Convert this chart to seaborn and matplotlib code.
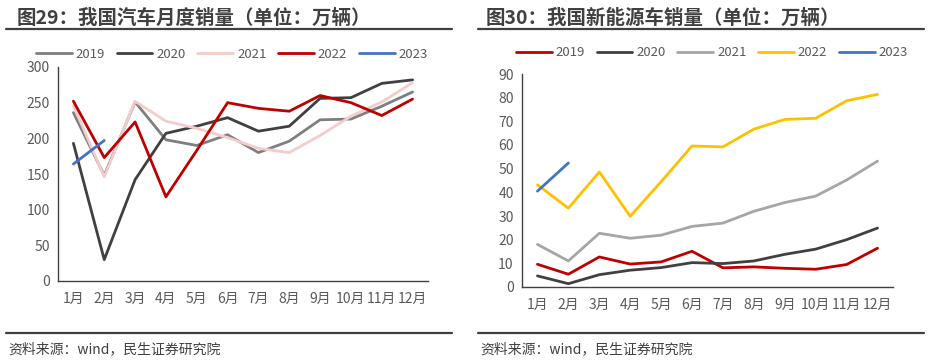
import pandas as pd
import numpy as np
import matplotlib
matplotlib.use("Agg")
import matplotlib.pyplot as plt
import seaborn as sns
from matplotlib.lines import Line2D

months = ["1月", "2月", "3月", "4月", "5月", "6月", "7月", "8月", "9月", "10月", "11月", "12月"]
years = ["2019", "2020", "2021", "2022", "2023"]

# 图29 汽车月度销量（万辆）
auto_2019 = [236, 148, 251, 198, 190, 205, 180, 196, 226, 227, 245, 265]
auto_2020 = [193, 30, 142, 207, 217, 229, 210, 217, 256, 257, 277, 282]
auto_2021 = [246, 146, 252, 224, 214, 201, 186, 180, 204, 231, 251, 278]
auto_2022 = [252, 173, 223, 118, 183, 250, 242, 238, 260, 250, 232, 255]
auto_2023 = [164, 197]

# 图30 新能源车销量（万辆）
nev_2019 = [9.6, 5.4, 12.7, 9.7, 10.6, 15.1, 8.1, 8.5, 7.9, 7.5, 9.5, 16.4]
nev_2020 = [4.7, 1.4, 5.2, 7.1, 8.2, 10.3, 9.9, 11.0, 13.8, 16.0, 20.0, 24.9]
nev_2021 = [18.0, 11.0, 22.7, 20.6, 21.9, 25.6, 27.0, 32.0, 35.7, 38.4, 45.2, 53.2]
nev_2022 = [43.2, 33.3, 48.6, 29.9, 44.5, 59.6, 59.2, 66.7, 70.8, 71.3, 78.7, 81.4]
nev_2023 = [40.5, 52.4]

auto_colors = ["#7F7F7F", "#404040", "#F4CCCC", "#C00000", "#4472C4"]
nev_colors = ["#C00000", "#404040", "#A6A6A6", "#FFC000", "#4472C4"]


def to_long(series):
    rows = []
    for yr, vals in zip(years, series):
        for m, v in zip(months, vals):
            rows.append({"month": m, "year": yr, "value": v})
    return pd.DataFrame(rows)


sns.set_style("white")
plt.rcParams["font.family"] = ["Noto Sans CJK SC", "DejaVu Sans"]

fig = plt.figure(figsize=(9.32, 3.61), dpi=100)
txt = "#595959"


def panel(rect, df, colors, ymax, ystep, title, tx, line_x0, line_x1, legend_xy):
    ax = fig.add_axes(rect)
    sns.lineplot(data=df, x="month", y="value", hue="year", palette=colors,
                 linewidth=2.0, ax=ax, legend=False, sort=False)
    ax.set_xlim(-0.5, 11.5)
    ax.set_ylim(0, ymax)
    ax.set_yticks(np.arange(0, ymax + 1, ystep))
    ax.set_xticks(range(12))
    ax.set_xticklabels(months)
    ax.set_xticks(np.arange(-0.5, 12, 1), minor=True)
    ax.tick_params(axis="x", which="major", length=0, pad=8, labelsize=10, colors=txt)
    ax.tick_params(axis="x", which="minor", length=4, width=1, color="#404040", direction="out")
    ax.tick_params(axis="y", length=0, labelsize=10, colors=txt, pad=6)
    ax.set_xlabel("")
    ax.set_ylabel("")
    for s in ["top", "right"]:
        ax.spines[s].set_visible(False)
    for s in ["left", "bottom"]:
        ax.spines[s].set_color("#404040")
        ax.spines[s].set_linewidth(1.0)
    handles = [Line2D([0], [0], color=c, lw=2.0) for c in colors]
    ax.legend(handles, years, ncol=5, loc="center", bbox_to_anchor=legend_xy,
              bbox_transform=fig.transFigure, frameon=False, fontsize=9.5,
              handlelength=2.7, columnspacing=0.9, handletextpad=0.3,
              labelcolor=txt, borderpad=0)
    fig.text(tx, 1 - 18 / 361, title, fontsize=14, fontweight="bold",
             color="#404040", va="center", ha="left")
    fig.add_artist(Line2D([line_x0 / 932, line_x1 / 932], [1 - 29 / 361] * 2,
                          color="#404040", lw=1.6, transform=fig.transFigure))
    fig.add_artist(Line2D([line_x0 / 932, line_x1 / 932], [1 - 333 / 361] * 2,
                          color="#404040", lw=1.6, transform=fig.transFigure))
    fig.text(line_x0 / 932 + 2 / 932, 1 - 349 / 361, "资料来源：wind，民生证券研究院",
             fontsize=10, color="#404040", va="center", ha="left")
    return ax


panel([58 / 932, 80 / 361, 370 / 932, 214 / 361],
      to_long([auto_2019, auto_2020, auto_2021, auto_2022, auto_2023]),
      auto_colors, 300, 50, "图29：我国汽车月度销量（单位：万辆）",
      17 / 932, 6, 452, (232 / 932, 1 - 54 / 361))

panel([522 / 932, 74 / 361, 371 / 932, 213 / 361],
      to_long([nev_2019, nev_2020, nev_2021, nev_2022, nev_2023]),
      nev_colors, 90, 10, "图30：我国新能源车销量（单位：万辆）",
      486 / 932, 478, 924, (712 / 932, 1 - 53 / 361))

fig.savefig("out.png", dpi=100)
